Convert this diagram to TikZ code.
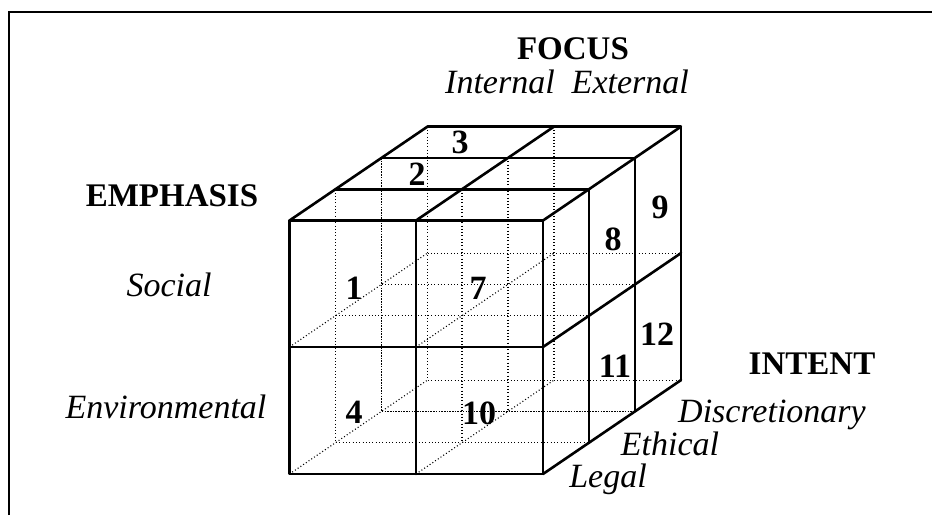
\documentclass[tikz,border=0pt]{standalone}
\usepackage{fontspec}
\setmainfont{Liberation Serif}
\tikzset{
  solidline/.style={line width=2.6pt, line cap=round, line join=round},
  hidden/.style={line width=1.1pt, dash pattern=on 1pt off 2.3pt},
  hiddenheavy/.style={line width=1.8pt, dash pattern=on 1.6pt off 1.1pt},
  framestyle/.style={line width=2.2pt},
  numlbl/.style={font=\fontsize{34}{38}\selectfont\bfseries, anchor=base, inner sep=0pt},
  axislbl/.style={font=\fontsize{33}{38}\selectfont\bfseries, anchor=base, inner sep=0pt},
  catlbl/.style={font=\fontsize{34}{40}\selectfont\itshape, anchor=base, inner sep=0pt},
}
\begin{document}
\begin{tikzpicture}[x=1pt,y=-1pt]
\useasboundingbox (0,0) rectangle (932,515);
% frame
\draw[framestyle] (9,515) -- (9,12) -- (932,12);
% cube geometry
\def\xa{289.5}\def\xb{416}\def\xc{543}
\def\ya{220.5}\def\yb{347}\def\yc{474}
\def\ddx{46}\def\ddy{-31.3}
% hidden lines
\foreach \d in {1,3} {
  \draw[hidden] ({\xa+\d*\ddx},{\ya+\d*\ddy}) -- ({\xa+\d*\ddx},{\yc+\d*\ddy}) -- ({\xc+\d*\ddx},{\yc+\d*\ddy});
}
\draw[hiddenheavy] ({\xa+2*\ddx},{\ya+2*\ddy}) -- ({\xa+2*\ddx},{\yc+2*\ddy}) -- ({\xc+2*\ddx},{\yc+2*\ddy});
\foreach \d in {1,2,3} {
  \draw[hidden] ({\xb+\d*\ddx},{\ya+\d*\ddy}) -- ({\xb+\d*\ddx},{\yc+\d*\ddy});
  \draw[hidden] ({\xa+\d*\ddx},{\yb+\d*\ddy}) -- ({\xc+\d*\ddx},{\yb+\d*\ddy});
}
\foreach \px/\py in {\xa/\yb, \xa/\yc, \xb/\yb, \xb/\yc} {
  \draw[hidden] (\px,\py) -- ++({3*\ddx},{3*\ddy});
}
% visible lines
\draw[solidline] (\xa,\ya) rectangle (\xc,\yc);
\draw[solidline] (\xb,\ya) -- (\xb,\yc);
\draw[solidline] (\xa,\yb) -- (\xc,\yb);
\foreach \d in {1,2,3} {
  \draw[solidline] ({\xa+\d*\ddx},{\ya+\d*\ddy}) -- ({\xc+\d*\ddx},{\ya+\d*\ddy}) -- ({\xc+\d*\ddx},{\yc+\d*\ddy});
}
\foreach \px/\py in {\xa/\ya, \xb/\ya, \xc/\ya, \xc/\yb, \xc/\yc} {
  \draw[solidline] (\px,\py) -- ++({3*\ddx},{3*\ddy});
}
% cell numbers
\node[numlbl] (n1) at (354,299) {1};
\node[numlbl] (n2) at (417,185) {2};
\node[numlbl] (n3) at (460,153) {3};
\node[numlbl] (n4) at (354,423) {4};
\node[numlbl] (n7) at (478,299) {7};
\node[numlbl] (n8) at (613,250) {8};
\node[numlbl] (n9) at (660,218) {9};
\node[numlbl] (n10) at (479,424) {10};
\node[numlbl] (n11) at (615,377) {11};
\node[numlbl] (n12) at (657,345) {12};
% axis labels
\node[axislbl] (focus) at (573,59) {FOCUS};
\node[catlbl] (intext) at (567,93) {Internal\ \ External};
\node[axislbl] (emph) at (172,206) {EMPHASIS};
\node[catlbl] (social) at (169,296) {Social};
\node[catlbl] (env) at (166,418) {Environmental};
\node[axislbl] (intent) at (812,374) {INTENT};
\node[catlbl] (disc) at (772,422) {Discretionary};
\node[catlbl] (ethical) at (670,455) {Ethical};
\node[catlbl] (legal) at (608,487) {Legal};
\end{tikzpicture}
\end{document}
